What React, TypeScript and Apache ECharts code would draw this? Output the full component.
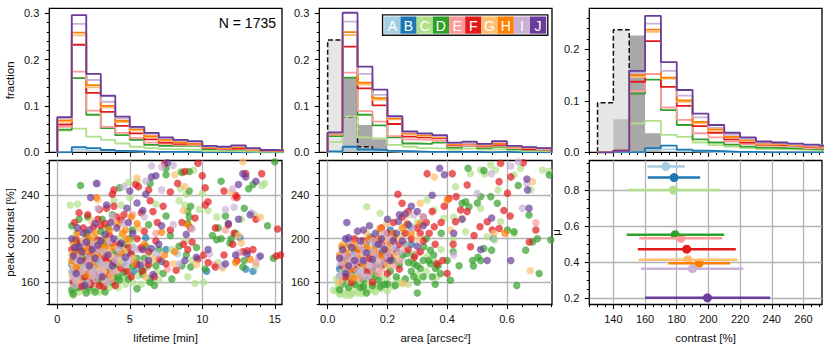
import React, { useEffect, useRef } from 'react';
import * as echarts from 'echarts';

const FONT = '"Liberation Sans", Arial, Helvetica, sans-serif';
const COLORS = ['#a6cee3', '#1f78b4', '#b2df8a', '#33a02c', '#fb9a99', '#e31a1c', '#fdbf6f', '#ff7f00', '#cab2d6', '#6a3d9a'];
const GROUPS = ['A', 'B', 'C', 'D', 'E', 'F', 'G', 'H', 'I', 'J'];
const N_TOTAL = 1735;

// ---------- tick values ----------
const lifeMajor = [0, 5, 10, 15];
const lifeMinor = [0, 1, 2, 3, 4, 5, 6, 7, 8, 9, 10, 11, 12, 13, 14, 15];
const areaMajor = [0, 0.2, 0.4, 0.6];
const areaMinor = [0, 0.05, 0.1, 0.15, 0.2, 0.25, 0.3, 0.35, 0.4, 0.45, 0.5, 0.55, 0.6, 0.65, 0.7, 0.75];
const contMajor = [140, 160, 180, 200, 220, 240, 260];
const contMinor = [125, 130, 135, 140, 145, 150, 155, 160, 165, 170, 175, 180, 185, 190, 195, 200, 205, 210, 215, 220, 225, 230, 235, 240, 245, 250, 255, 260, 265, 270];
const fracMajor = [0, 0.1, 0.2, 0.3];
const fracMinor = [0, 0.02, 0.04, 0.06, 0.08, 0.1, 0.12, 0.14, 0.16, 0.18, 0.2, 0.22, 0.24, 0.26, 0.28, 0.3];
const fracMajorR = [0, 0.1, 0.2];
const peakMajor = [160, 200, 240];
const peakMinor = [140, 150, 160, 170, 180, 190, 200, 210, 220, 230, 240, 250, 260, 270];
const muMajor = [0.2, 0.4, 0.6, 0.8];
const muMinor = [0.2, 0.25, 0.3, 0.35, 0.4, 0.45, 0.5, 0.55, 0.6, 0.65, 0.7, 0.75, 0.8, 0.85, 0.9, 0.95];

// ---------- histogram bin edges ----------
const lifeEdges = [0, 1, 2, 3, 4, 5, 6, 7, 8, 9, 10, 11, 12, 13, 14, 15, 16];
const areaEdges = [0, 0.05, 0.1, 0.15, 0.2, 0.25, 0.3, 0.35, 0.4, 0.45, 0.5, 0.55, 0.6, 0.65, 0.7, 0.75];
const contEdges = [130, 140, 150, 160, 170, 180, 190, 200, 210, 220, 230, 240, 250, 260, 270, 280];

// ---------- stacked histogram levels (lifetime) ----------
const lifeHistA = [0.000, 0.006, 0.004, 0.003, 0.002, 0.001, 0.001, 0.000, 0.000, 0.000, 0.000, 0.000, 0.000, 0.000, 0.000, 0.000];
const lifeHistB = [0.000, 0.011, 0.009, 0.005, 0.003, 0.002, 0.001, 0.001, 0.001, 0.000, 0.000, 0.000, 0.000, 0.000, 0.000, 0.000];
const lifeHistC = [0.047, 0.051, 0.034, 0.027, 0.019, 0.012, 0.009, 0.007, 0.006, 0.005, 0.003, 0.003, 0.002, 0.001, 0.001, 0.001];
const lifeHistD = [0.049, 0.160, 0.081, 0.052, 0.037, 0.027, 0.016, 0.014, 0.014, 0.014, 0.007, 0.006, 0.006, 0.004, 0.002, 0.002];
const lifeHistE = [0.055, 0.174, 0.090, 0.055, 0.042, 0.031, 0.021, 0.018, 0.016, 0.015, 0.009, 0.007, 0.008, 0.005, 0.003, 0.002];
const lifeHistF = [0.060, 0.232, 0.128, 0.087, 0.057, 0.041, 0.028, 0.021, 0.018, 0.017, 0.010, 0.008, 0.009, 0.006, 0.004, 0.003];
const lifeHistG = [0.066, 0.252, 0.140, 0.097, 0.065, 0.047, 0.033, 0.025, 0.021, 0.018, 0.011, 0.009, 0.011, 0.006, 0.004, 0.003];
const lifeHistH = [0.069, 0.258, 0.145, 0.100, 0.068, 0.050, 0.035, 0.027, 0.022, 0.019, 0.012, 0.010, 0.012, 0.007, 0.005, 0.003];
const lifeHistI = [0.073, 0.277, 0.156, 0.109, 0.073, 0.053, 0.040, 0.030, 0.025, 0.022, 0.013, 0.011, 0.014, 0.008, 0.005, 0.004];
const lifeHistJ = [0.076, 0.296, 0.169, 0.122, 0.077, 0.055, 0.042, 0.032, 0.027, 0.024, 0.014, 0.012, 0.015, 0.009, 0.005, 0.004];

// ---------- stacked histogram levels (area) ----------
const areaHistA = [0.001, 0.007, 0.003, 0.002, 0.001, 0.001, 0.000, 0.000, 0.000, 0.000, 0.000, 0.000, 0.000, 0.000, 0.000];
const areaHistB = [0.002, 0.012, 0.006, 0.005, 0.003, 0.002, 0.001, 0.001, 0.001, 0.001, 0.000, 0.001, 0.000, 0.000, 0.000];
const areaHistC = [0.022, 0.077, 0.032, 0.030, 0.016, 0.012, 0.009, 0.008, 0.006, 0.008, 0.006, 0.007, 0.005, 0.003, 0.002];
const areaHistD = [0.035, 0.161, 0.081, 0.058, 0.032, 0.019, 0.018, 0.021, 0.010, 0.014, 0.009, 0.012, 0.007, 0.005, 0.004];
const areaHistE = [0.038, 0.172, 0.089, 0.066, 0.035, 0.028, 0.027, 0.025, 0.014, 0.015, 0.012, 0.014, 0.009, 0.006, 0.005];
const areaHistF = [0.040, 0.228, 0.138, 0.101, 0.061, 0.034, 0.032, 0.030, 0.016, 0.018, 0.014, 0.016, 0.011, 0.007, 0.006];
const areaHistG = [0.040, 0.253, 0.146, 0.113, 0.071, 0.039, 0.035, 0.032, 0.017, 0.019, 0.015, 0.019, 0.011, 0.009, 0.007];
const areaHistH = [0.041, 0.259, 0.150, 0.117, 0.073, 0.041, 0.037, 0.034, 0.018, 0.020, 0.016, 0.020, 0.012, 0.009, 0.008];
const areaHistI = [0.042, 0.282, 0.169, 0.124, 0.076, 0.043, 0.039, 0.035, 0.020, 0.021, 0.017, 0.022, 0.013, 0.010, 0.008];
const areaHistJ = [0.043, 0.301, 0.185, 0.135, 0.078, 0.045, 0.041, 0.037, 0.021, 0.023, 0.018, 0.024, 0.014, 0.011, 0.009];

// ---------- stacked histogram levels (contrast) ----------
const contHistA = [0, 0.000, 0.000, 0.005, 0.006, 0.002, 0.001, 0.000, 0.000, 0.000, 0.000, 0.000, 0.000, 0.000, 0.000];
const contHistB = [0, 0.000, 0.001, 0.008, 0.013, 0.005, 0.003, 0.002, 0.001, 0.001, 0.000, 0.000, 0.000, 0.000, 0.000];
const contHistC = [0, 0.002, 0.056, 0.061, 0.034, 0.030, 0.019, 0.014, 0.011, 0.008, 0.006, 0.006, 0.005, 0.004, 0.003];
const contHistD = [0, 0.003, 0.114, 0.141, 0.082, 0.053, 0.025, 0.019, 0.015, 0.011, 0.009, 0.008, 0.007, 0.006, 0.005];
const contHistE = [0, 0.003, 0.119, 0.152, 0.087, 0.063, 0.037, 0.029, 0.021, 0.016, 0.013, 0.012, 0.011, 0.008, 0.007];
const contHistF = [0, 0.003, 0.137, 0.216, 0.127, 0.090, 0.051, 0.038, 0.025, 0.019, 0.015, 0.014, 0.013, 0.010, 0.009];
const contHistG = [0, 0.003, 0.146, 0.234, 0.143, 0.098, 0.056, 0.042, 0.029, 0.022, 0.016, 0.016, 0.014, 0.011, 0.010];
const contHistH = [0, 0.003, 0.150, 0.238, 0.145, 0.101, 0.059, 0.045, 0.030, 0.024, 0.017, 0.017, 0.015, 0.012, 0.011];
const contHistI = [0, 0.003, 0.154, 0.250, 0.158, 0.110, 0.068, 0.048, 0.034, 0.026, 0.019, 0.018, 0.016, 0.013, 0.012];
const contHistJ = [0, 0.003, 0.158, 0.265, 0.175, 0.121, 0.075, 0.053, 0.038, 0.029, 0.021, 0.019, 0.017, 0.015, 0.013];

// ---------- grey reference histograms ----------
const areaRefDark = [0, 0.162, 0.059, 0.028];
const areaRefLight = [0.242, 0.0755, 0.012];
const contRefDark = [0, 0.064, 0.227, 0.037];
const contRefLight = [0.096, 0.238];

// ---------- scatter: lifetime [min] vs peak contrast [%] ----------
const lifeScA = [[4.0, 177], [5.4, 190], [8.3, 186], [2.8, 172], [1.0, 161], [1.6, 165], [2.5, 160], [1.7, 177], [2.6, 177], [3.3, 178], [1.3, 175], [2.0, 171], [1.3, 184], [2.3, 183], [3.1, 181], [4.4, 168], [1.9, 181],
  [1.1, 170], [1.5, 180], [2.2, 166], [2.9, 168], [3.6, 174], [4.5, 182], [1.8, 158], [3.0, 188]];
const lifeScB = [[12.6, 201], [6.1, 201], [4.6, 178], [6.1, 174], [7.2, 179], [13.0, 172], [10.3, 170], [3.9, 180], [5.0, 186], [1.4, 160], [2.3, 162], [3.3, 168], [1.8, 166], [2.7, 175], [3.7, 180], [2.2, 181], [1.8, 188], [2.5, 186], [3.4, 193], [1.2, 187], [13.5, 170], [6.4, 163], [2.1, 199], [4.3, 194], [7.5, 190],
  [1.0, 176], [1.6, 172], [2.9, 181], [3.5, 172], [4.1, 186], [5.3, 170], [1.5, 193], [2.8, 165]];
const lifeScC = [[5.5, 253], [8.5, 262], [14.3, 251], [9.4, 263], [4.9, 252], [8.5, 246], [8.9, 241], [10.0, 242], [0.9, 231], [1.4, 232], [3.9, 235], [4.4, 231], [5.0, 238], [8.4, 235], [8.8, 231], [9.8, 227], [10.4, 226], [11.0, 220], [12.7, 218], [13.6, 222], [6.8, 232], [2.1, 205], [4.4, 180], [5.1, 195], [6.5, 185], [7.9, 190], [8.8, 198], [9.3, 180], [10.1, 160], [11.1, 178], [13.7, 175], [9.0, 165], [6.9, 170], [4.0, 173], [9.5, 159], [14.1, 249],
  [1.0, 150], [1.2, 152], [1.5, 151], [1.9, 153], [2.3, 152], [2.7, 154], [3.1, 153], [3.6, 155], [4.2, 155], [1.1, 148], [1.1, 158], [1.7, 160], [2.4, 157], [3.0, 159], [3.8, 158], [4.7, 158], [1.3, 163], [1.0, 167], [1.4, 172], [2.0, 175], [2.7, 170], [3.3, 173], [3.9, 168], [1.1, 185], [1.6, 190], [2.2, 195], [3.0, 186], [3.6, 193],
  [1.2, 156], [1.6, 154], [2.1, 157], [2.5, 155], [2.9, 151], [3.4, 157], [4.0, 161], [4.6, 164], [5.2, 160], [5.8, 158], [6.3, 161], [1.0, 178], [1.8, 182], [2.6, 188], [3.5, 182], [4.9, 172], [5.6, 166], [6.2, 174], [2.4, 200], [1.3, 205], [3.2, 203], [4.3, 201], [7.0, 162]];
const lifeScD = [[7.5, 265], [7.5, 259], [9.1, 262], [11.3, 253], [15.0, 271], [8.6, 261], [13.5, 250], [1.6, 249], [4.3, 247], [6.4, 251], [9.1, 244], [13.2, 246], [1.0, 212], [1.5, 218], [2.1, 220], [3.1, 218], [3.8, 222], [5.2, 208], [6.3, 213], [7.5, 221], [9.0, 225], [9.1, 220], [9.0, 214], [9.2, 230], [10.7, 203], [11.1, 210], [11.6, 221], [12.0, 200], [12.9, 228], [14.5, 212], [7.8, 203], [4.5, 188], [5.5, 182], [6.1, 193], [6.8, 175], [7.3, 168], [8.4, 193], [8.9, 185], [9.2, 174], [9.6, 192], [10.2, 172], [11.0, 199], [11.9, 196], [12.9, 180], [12.8, 174], [14.9, 182], [4.9, 163], [5.9, 167], [7.9, 163], [8.6, 175], [3.8, 160], [4.2, 165], [5.5, 154], [6.7, 157], [11.3, 200], [12.3, 205],
  [1.0, 153], [1.4, 155], [2.0, 150], [2.6, 151], [3.3, 151], [1.1, 149], [1.2, 160], [1.9, 162], [2.8, 160], [3.5, 162], [4.3, 162], [1.1, 170], [1.6, 176], [2.3, 172], [2.9, 176], [3.6, 172], [4.1, 176], [1.2, 188], [1.9, 184], [2.5, 192], [3.2, 196], [3.9, 188], [1.4, 196],
  [1.3, 158], [1.7, 165], [2.2, 155], [2.5, 165], [3.0, 164], [3.9, 165], [4.6, 169], [5.2, 175], [5.8, 171], [6.4, 160], [6.0, 182], [1.5, 183], [2.7, 182], [3.4, 188], [4.7, 195], [2.0, 205], [3.0, 207], [3.5, 210], [5.0, 200], [1.2, 180], [7.0, 190]];
const lifeScE = [[5.2, 222], [6.8, 205], [11.6, 208], [5.7, 190], [7.6, 172], [10.8, 176], [13.7, 178], [1.5, 158], [2.2, 164], [3.2, 163], [1.2, 174], [1.8, 168], [2.4, 178], [3.0, 172], [3.5, 177], [2.2, 170], [1.4, 182], [2.1, 187], [2.9, 183], [3.5, 189], [4.4, 185], [6.1, 178], [12.2, 238],
  [1.6, 162], [2.6, 158], [3.7, 162], [1.1, 165], [2.0, 178], [3.3, 168], [4.1, 170], [1.7, 190], [2.6, 194], [3.9, 183]];
const lifeScF = [[7.4, 269], [9.7, 269.5], [14.1, 260], [8.8, 262], [10.0, 258], [3.9, 245], [3.8, 241], [5.4, 250], [6.3, 245], [5.6, 248], [7.8, 243], [8.3, 251], [12.3, 240], [12.4, 238], [11.5, 244], [10.2, 247], [1.5, 224], [2.1, 222], [2.9, 227], [3.4, 228], [3.9, 230], [4.6, 222], [5.8, 224], [6.6, 225], [7.3, 230], [8.6, 215], [9.5, 219], [10.4, 234], [10.9, 210], [11.8, 213], [12.2, 205], [13.7, 218], [7.8, 208], [9.2, 210], [4.4, 217], [6.9, 215], [3.0, 212], [10.2, 231], [15.2, 209], [4.3, 195], [5.1, 186], [5.8, 192], [6.3, 188], [7.0, 181], [7.5, 177], [8.2, 171], [9.0, 190], [9.7, 181], [10.1, 185], [10.4, 178], [10.9, 174], [11.5, 185], [12.1, 195], [12.8, 188], [13.1, 189], [13.5, 190], [15.1, 184], [15.4, 185], [12.4, 180], [9.3, 197], [8.7, 195], [6.7, 165], [4.8, 170], [2.3, 158], [3.2, 156], [5.5, 176], [1.7, 156], [2.9, 157], [4.0, 157], [1.3, 178], [2.0, 180], [2.6, 167], [3.4, 180], [3.9, 178], [1.0, 190], [1.7, 196], [2.3, 185], [2.8, 199], [3.3, 183], [3.8, 196], [1.3, 199], [6.4, 235], [13.0, 260],
  [1.1, 160], [1.9, 165], [2.5, 162], [3.6, 167], [4.4, 173], [5.1, 165], [5.9, 170], [6.3, 176], [1.5, 188], [2.1, 193], [2.7, 188], [3.6, 203], [4.9, 192], [5.5, 200], [6.0, 207], [1.8, 210], [2.5, 211], [3.3, 214], [4.1, 220], [6.8, 198], [1.2, 215], [2.8, 218]];
const lifeScG = [[5.5, 256], [12.8, 271], [8.1, 259], [2.8, 236], [12.0, 243], [8.8, 248], [3.8, 217], [5.6, 210], [14.0, 220], [12.5, 203], [8.7, 226], [2.4, 216], [4.9, 198], [6.6, 181], [8.0, 177], [11.4, 173], [12.7, 196], [9.6, 176], [1.3, 162], [2.4, 166], [3.7, 166], [1.1, 176], [1.7, 172], [2.8, 174], [3.2, 169], [1.2, 182], [2.0, 190], [2.6, 184], [3.1, 192], [3.7, 184], [6.1, 165],
  [1.5, 178], [2.3, 179], [3.4, 176], [4.3, 178], [1.0, 186], [1.8, 198], [2.8, 196], [3.5, 190], [4.6, 188], [5.2, 182]];
const lifeScH = [[2.7, 238], [4.7, 208], [5.1, 220], [4.2, 213], [7.2, 206], [9.0, 213], [5.3, 178], [6.0, 195], [7.4, 185], [8.1, 188], [13.3, 181], [12.3, 178], [2.0, 167], [3.0, 166], [1.0, 180], [1.5, 170], [2.5, 174], [3.7, 170], [1.1, 196], [1.6, 186], [2.4, 198], [3.0, 191], [3.4, 199], [1.9, 193], [4.5, 205], [4.8, 200], [1.4, 205], [2.6, 205], [5.5, 214],
  [1.2, 186], [1.7, 190], [2.2, 189], [2.8, 186], [3.3, 193], [3.9, 192], [2.1, 202], [3.6, 208], [1.3, 173], [2.3, 180], [4.4, 187]];
const lifeScI = [[6.5, 267], [8.0, 267.5], [7.2, 266], [2.8, 251], [4.6, 248], [6.1, 253], [12.1, 246], [3.8, 221], [4.6, 214], [6.0, 220], [8.0, 213], [9.3, 209], [12.2, 229], [13.4, 224], [11.6, 227], [5.3, 192], [6.9, 186], [8.4, 177], [11.4, 175], [12.5, 187], [13.9, 183], [10.5, 186], [1.2, 157], [2.1, 159], [2.6, 163], [3.4, 160], [1.4, 166], [1.9, 174], [2.4, 169], [2.9, 179], [3.5, 175], [3.1, 176], [2.1, 177], [1.5, 184], [2.2, 182], [2.7, 189], [3.2, 188], [4.2, 190], [2.8, 228], [7.2, 245],
  [1.0, 170], [1.3, 180], [1.7, 170], [2.5, 172], [3.0, 168], [3.8, 170], [4.0, 180], [4.7, 176], [1.8, 195], [2.5, 195], [3.6, 198], [5.0, 180], [1.2, 163], [2.8, 167]];
const lifeScJ = [[7.6, 270], [6.5, 257], [13.0, 257], [12.8, 260], [2.7, 251], [6.8, 258], [2.3, 238], [6.1, 241], [13.7, 253], [12.5, 250], [5.0, 244], [3.4, 231], [4.8, 228], [5.5, 233], [5.9, 226], [2.6, 214], [1.8, 205], [8.9, 204], [12.5, 218], [13.3, 222], [11.8, 214], [7.2, 212], [4.7, 183], [5.7, 176], [6.5, 191], [7.0, 195], [8.8, 180], [9.6, 183], [11.6, 177], [12.3, 185], [13.1, 186], [14.0, 184], [10.4, 190], [6.3, 180], [1.9, 157], [3.1, 165], [1.3, 168], [2.2, 175], [3.8, 175], [1.6, 180], [1.0, 200], [1.5, 193], [2.0, 197], [2.8, 194], [3.5, 185], [3.9, 200], [1.2, 192], [4.1, 210], [6.6, 167],
  [1.1, 184], [1.7, 188], [2.4, 190], [3.0, 198], [3.3, 204], [2.2, 208], [1.4, 210], [3.7, 215], [4.4, 196], [5.2, 205], [2.6, 182], [5.9, 190], [4.9, 215]];

// ---------- scatter: area [arcsec^2] vs peak contrast [%] ----------
const areaScA = [[0.176, 180], [0.21, 189.5], [0.131, 174], [0.086, 168], [0.05, 170], [0.07, 165], [0.09, 170], [0.11, 175], [0.13, 183], [0.15, 178], [0.17, 186], [0.19, 192], [0.22, 185], [0.08, 186], [0.12, 170], [0.16, 170], [0.1, 160], [0.06, 162],
  [0.04, 175], [0.09, 178], [0.14, 188], [0.18, 176], [0.11, 165], [0.2, 195], [0.25, 182]];
const areaScB = [[0.555, 200.3], [0.277, 211], [0.21, 208], [0.142, 201.8], [0.097, 186.5], [0.069, 197], [0.041, 165], [0.05, 158], [0.07, 180], [0.09, 188], [0.12, 190], [0.14, 165], [0.16, 195], [0.18, 188], [0.2, 178], [0.1, 176], [0.08, 170], [0.06, 182],
  [0.04, 172], [0.11, 182], [0.15, 172], [0.19, 183], [0.13, 195], [0.23, 190], [0.28, 195]];
const areaScC = [[0.478, 260], [0.546, 268], [0.562, 263.4], [0.525, 259.7], [0.719, 263.4], [0.646, 265], [0.624, 258.8], [0.512, 263.4], [0.428, 248], [0.534, 201.8], [0.559, 198.8], [0.358, 178.8], [0.333, 183.4], [0.333, 235.7], [0.355, 226.5], [0.389, 218.8], [0.422, 220], [0.462, 206.5], [0.579, 215.7], [0.624, 205], [0.131, 229.5], [0.176, 223.4], [0.019, 152.6], [0.041, 149.5], [0.075, 148], [0.114, 149.5], [0.154, 152.6], [0.243, 158.8], [0.299, 166.5], [0.366, 165], [0.512, 228], [0.74, 262], [0.68, 245], [0.57, 245],
  [0.03, 152], [0.04, 149], [0.05, 150], [0.06, 148], [0.07, 151], [0.08, 149], [0.09, 152], [0.1, 150], [0.12, 152], [0.14, 153], [0.16, 151], [0.18, 154], [0.2, 152], [0.22, 156], [0.04, 156], [0.06, 158], [0.08, 162], [0.1, 157], [0.13, 160], [0.15, 165], [0.2, 162], [0.25, 160], [0.03, 163], [0.05, 170], [0.1, 172],
  [0.035, 158], [0.045, 165], [0.07, 160], [0.09, 166], [0.11, 161], [0.12, 157], [0.15, 156], [0.17, 158], [0.18, 165], [0.23, 162], [0.27, 158], [0.3, 163], [0.33, 170], [0.07, 175], [0.14, 178], [0.2, 175], [0.28, 180], [0.25, 205], [0.3, 215], [0.38, 190], [0.42, 200]];
const areaScD = [[0.47, 265], [0.523, 262.8], [0.638, 249], [0.742, 258.8], [0.501, 233], [0.512, 238.8], [0.674, 221.8], [0.602, 208], [0.624, 206.5], [0.485, 180], [0.488, 174.8], [0.512, 180], [0.503, 183], [0.523, 191], [0.549, 189.5], [0.708, 168], [0.663, 189.5], [0.633, 157], [0.702, 200], [0.686, 197], [0.411, 161.8], [0.361, 172.6], [0.378, 168], [0.322, 192.6], [0.344, 189.5], [0.355, 185], [0.45, 232.6], [0.473, 229.5], [0.462, 234], [0.546, 238.8], [0.568, 232.6], [0.747, 198.8], [0.266, 186.5], [0.288, 177], [0.31, 172.6], [0.344, 177], [0.226, 157], [0.176, 155.7], [0.12, 155.7], [0.288, 165], [0.338, 180],
  [0.04, 153], [0.07, 155], [0.09, 158], [0.11, 155], [0.13, 150], [0.15, 157], [0.17, 162], [0.19, 158], [0.23, 165], [0.26, 163], [0.28, 170], [0.3, 160], [0.32, 165], [0.06, 165], [0.1, 167], [0.14, 170], [0.18, 175], [0.22, 180], [0.25, 185], [0.27, 178], [0.3, 175],
  [0.05, 160], [0.08, 168], [0.12, 162], [0.16, 166], [0.2, 158], [0.21, 170], [0.24, 176], [0.29, 185], [0.32, 180], [0.35, 165], [0.37, 175], [0.4, 180], [0.26, 195], [0.33, 200], [0.38, 205], [0.42, 188], [0.44, 175], [0.3, 150], [0.36, 158]];
const areaScE = [[0.697, 214.8], [0.176, 195.7], [0.131, 180], [0.21, 192.6], [0.299, 186.5], [0.05, 163], [0.07, 168], [0.09, 174], [0.11, 164], [0.13, 178], [0.15, 172], [0.17, 168], [0.08, 180], [0.12, 186], [0.19, 182], [0.22, 175], [0.16, 190],
  [0.06, 175], [0.1, 185], [0.14, 168], [0.18, 172], [0.2, 198], [0.24, 180], [0.26, 190]];
const areaScF = [[0.333, 260], [0.417, 260], [0.579, 269.5], [0.655, 270], [0.574, 252.6], [0.613, 257], [0.602, 242], [0.611, 221], [0.59, 226], [0.551, 208], [0.574, 209.5], [0.697, 208], [0.675, 197], [0.51, 211], [0.534, 215.7], [0.49, 203], [0.478, 192.6], [0.366, 177], [0.4, 168], [0.385, 180], [0.467, 249.5], [0.467, 225], [0.43, 238.8], [0.235, 241], [0.249, 232.6], [0.406, 237], [0.445, 226.5], [0.32, 220], [0.357, 211], [0.31, 205], [0.428, 215.7],
  [0.05, 175], [0.07, 183], [0.1, 190], [0.12, 198], [0.14, 182], [0.16, 176], [0.18, 195], [0.2, 188], [0.22, 200], [0.24, 195], [0.26, 205], [0.28, 200], [0.3, 210], [0.32, 198], [0.34, 205], [0.36, 195], [0.08, 160], [0.11, 178], [0.15, 160], [0.2, 168], [0.24, 172], [0.18, 210], [0.22, 215], [0.25, 220],
  [0.06, 165], [0.09, 172], [0.13, 170], [0.17, 185], [0.19, 177], [0.21, 183], [0.23, 188], [0.27, 190], [0.29, 183], [0.31, 188], [0.33, 215], [0.35, 225], [0.38, 215], [0.27, 225], [0.2, 205], [0.15, 200], [0.09, 200], [0.39, 230], [0.42, 195]];
const areaScG = [[0.357, 257], [0.31, 232.6], [0.557, 205], [0.678, 170.5], [0.686, 252.6], [0.266, 221.8], [0.198, 214], [0.176, 205], [0.411, 208], [0.45, 218.8], [0.12, 195.7], [0.254, 158.8], [0.04, 160], [0.06, 178], [0.09, 165], [0.11, 185], [0.14, 192], [0.17, 180], [0.21, 190], [0.24, 200], [0.07, 190], [0.13, 205], [0.19, 200],
  [0.05, 195], [0.08, 180], [0.12, 185], [0.16, 188], [0.2, 176], [0.23, 185], [0.26, 212], [0.3, 200]];
const areaScH = [[0.593, 205], [0.4, 235.7], [0.266, 214], [0.221, 201.8], [0.176, 209.5], [0.31, 214], [0.097, 189.5], [0.064, 172.6], [0.047, 192.6], [0.12, 180], [0.154, 189.5], [0.086, 163.4], [0.05, 180], [0.08, 172], [0.1, 182], [0.12, 176], [0.15, 187], [0.18, 184], [0.21, 196], [0.09, 195], [0.14, 200], [0.06, 187],
  [0.04, 185], [0.07, 195], [0.11, 190], [0.13, 192], [0.17, 199], [0.22, 205], [0.25, 210], [0.28, 205], [0.19, 190]];
const areaScI = [[0.613, 267], [0.638, 271], [0.548, 260], [0.667, 251], [0.501, 241.8], [0.652, 228], [0.288, 221.8], [0.422, 185], [0.04, 166], [0.06, 172], [0.08, 176], [0.1, 170], [0.12, 180], [0.14, 175], [0.16, 183], [0.18, 178], [0.2, 185], [0.22, 192], [0.24, 188], [0.07, 198], [0.11, 193], [0.15, 198], [0.19, 205], [0.05, 185], [0.13, 165], [0.09, 185],
  [0.045, 178], [0.07, 182], [0.1, 180], [0.12, 188], [0.16, 176], [0.18, 193], [0.21, 200], [0.26, 195], [0.28, 210], [0.32, 220], [0.11, 170], [0.15, 188]];
const areaScJ = [[0.375, 265], [0.391, 259], [0.667, 255], [0.674, 228], [0.613, 180], [0.549, 219], [0.512, 190], [0.669, 245], [0.45, 218], [0.064, 215], [0.07, 201], [0.26, 223], [0.237, 216], [0.534, 180], [0.422, 205],
  [0.05, 190], [0.07, 175], [0.09, 180], [0.11, 198], [0.13, 187], [0.15, 181], [0.17, 195], [0.19, 190], [0.21, 180], [0.23, 205], [0.27, 213], [0.3, 193], [0.1, 207], [0.14, 212], [0.06, 168], [0.2, 218], [0.25, 198],
  [0.04, 182], [0.06, 200], [0.08, 192], [0.12, 208], [0.16, 205], [0.18, 200], [0.22, 198], [0.24, 222], [0.28, 230], [0.32, 212], [0.35, 240], [0.12, 180], [0.3, 225]];

// ---------- mean contrast with spread per group ----------
const errMu = [0.93, 0.869, 0.80, 0.551, 0.531, 0.471, 0.412, 0.392, 0.362, 0.20];
const errCenter = [173.1, 178.3, 177.9, 179.0, 182.6, 186.3, 187.0, 194.1, 189.9, 199.4];
const errLow = [161.5, 161.7, 148.8, 148.4, 156.4, 155.4, 156.0, 174.7, 157.5, 160.0];
const errHigh = [185.1, 194.8, 207.0, 209.9, 208.7, 217.3, 218.3, 213.7, 222.1, 239.0];

// ---------- layout ----------
const GL = [49.3, 319.3, 589.3];
const GT = [8.3, 160.5];
const GW = 232.7;
const GH = 144;

function stepData(edges: number[], vals: number[]) {
  const pts: number[][] = [[edges[0], 0]];
  for (let i = 0; i < vals.length; i++) {
    pts.push([edges[i], vals[i]]);
    pts.push([edges[i + 1], vals[i]]);
  }
  pts.push([edges[vals.length], 0]);
  return pts;
}

function axisPair(kind: 'x' | 'y', grid: number, min: number, max: number, major: number[], minor: number[], labels: boolean, dec: number, split: boolean) {
  const pos = kind === 'x' ? 'bottom' : 'left';
  const main = {
    type: 'value', gridIndex: grid, min, max, position: pos,
    axisLine: { show: false, onZero: false },
    axisTick: { show: true, inside: false, length: 4.5, lineStyle: { color: '#000', width: 1.1 }, customValues: major },
    axisLabel: {
      show: labels, customValues: major, margin: kind === 'x' ? 9 : 10, fontSize: 11, fontFamily: FONT, color: '#111',
      formatter: (v: number) => v.toFixed(dec), showMinLabel: true, showMaxLabel: true, hideOverlap: false,
    },
    splitLine: { show: split, lineStyle: { color: '#b3b3b3', width: 1.3 } },
    minorTick: { show: false }, minorSplitLine: { show: false },
  };
  const mnr = {
    type: 'value', gridIndex: grid, min, max, position: pos,
    axisLine: { show: false, onZero: false },
    axisTick: { show: true, inside: false, length: 2.6, lineStyle: { color: '#000', width: 1 }, customValues: minor },
    axisLabel: { show: false },
    splitLine: { show: false },
  };
  return [main, mnr];
}

function buildOption() {
  const grids = [];
  for (let r = 0; r < 2; r++) for (let c = 0; c < 3; c++) {
    grids.push({ left: GL[c], top: GT[r], width: GW, height: GH, show: true, borderColor: '#000', borderWidth: 1.3, backgroundColor: 'transparent', containLabel: false, outerBoundsMode: 'none' });
  }
  const xAxis = [
    ...axisPair('x', 0, -0.55, 15.5, lifeMajor, lifeMinor, false, 0, false),
    ...axisPair('x', 1, -0.028, 0.751, areaMajor, areaMinor, false, 1, false),
    ...axisPair('x', 2, 124.8, 271.7, contMajor, contMinor, false, 0, false),
    ...axisPair('x', 3, -0.55, 15.5, lifeMajor, lifeMinor, true, 0, true),
    ...axisPair('x', 4, -0.028, 0.751, areaMajor, areaMinor, true, 1, true),
    ...axisPair('x', 5, 124.8, 271.7, contMajor, contMinor, true, 0, true),
  ];
  const yAxis = [
    ...axisPair('y', 0, 0, 0.3106, fracMajor, fracMinor, true, 1, false),
    ...axisPair('y', 1, 0, 0.3106, fracMajor, fracMinor, true, 1, false),
    ...axisPair('y', 2, 0, 0.2796, fracMajorR, fracMinor, true, 1, false),
    ...axisPair('y', 3, 139.4, 272.1, peakMajor, peakMinor, true, 0, true),
    ...axisPair('y', 4, 139.4, 272.1, peakMajor, peakMinor, true, 0, true),
    ...axisPair('y', 5, 0.163, 0.964, muMajor, muMinor, true, 1, true),
  ];

  const series: any[] = [];
  const ax = (g: number) => ({ xAxisIndex: 2 * g, yAxisIndex: 2 * g });

  const fill = (g: number, edges: number[], vals: number[], color: string, opacity: number) => ({
    type: 'line', ...ax(g), data: stepData(edges, vals), symbol: 'none', showSymbol: false, silent: true,
    lineStyle: { opacity: 0, width: 0 }, areaStyle: { color, opacity },
  });
  const dashed = (g: number, edges: number[], vals: number[]) => ({
    type: 'line', ...ax(g), data: stepData(edges, vals), symbol: 'none', showSymbol: false, silent: true,
    lineStyle: { color: '#111', width: 1.5, type: [5, 2.5] },
  });
  series.push(fill(1, areaEdges, areaRefDark, '#a8a8a8', 1));
  series.push(fill(1, areaEdges, areaRefLight, '#d2d2d2', 0.55));
  series.push(dashed(1, areaEdges, areaRefLight));
  series.push(fill(2, contEdges, contRefDark, '#a8a8a8', 1));
  series.push(fill(2, contEdges, contRefLight, '#d2d2d2', 0.55));
  series.push(dashed(2, contEdges, contRefLight));

  const lifeHists = [lifeHistA, lifeHistB, lifeHistC, lifeHistD, lifeHistE, lifeHistF, lifeHistG, lifeHistH, lifeHistI, lifeHistJ];
  const areaHists = [areaHistA, areaHistB, areaHistC, areaHistD, areaHistE, areaHistF, areaHistG, areaHistH, areaHistI, areaHistJ];
  const contHists = [contHistA, contHistB, contHistC, contHistD, contHistE, contHistF, contHistG, contHistH, contHistI, contHistJ];
  const histSets: [number, number[], number[][]][] = [[0, lifeEdges, lifeHists], [1, areaEdges, areaHists], [2, contEdges, contHists]];
  histSets.forEach(([g, edges, hs]) => {
    hs.forEach((vals, i) => {
      series.push({
        type: 'line', ...ax(g), data: stepData(edges, vals), symbol: 'none', showSymbol: false, silent: true,
        lineStyle: { color: COLORS[i], width: 1.8 },
      });
    });
  });

  const lifeSc = [lifeScA, lifeScB, lifeScC, lifeScD, lifeScE, lifeScF, lifeScG, lifeScH, lifeScI, lifeScJ];
  const areaSc = [areaScA, areaScB, areaScC, areaScD, areaScE, areaScF, areaScG, areaScH, areaScI, areaScJ];
  lifeSc.forEach((pts, i) => series.push({
    type: 'scatter', ...ax(3), data: pts, symbolSize: 7.5, silent: true, clip: true,
    itemStyle: { color: COLORS[i], opacity: 0.7 },
  }));
  areaSc.forEach((pts, i) => series.push({
    type: 'scatter', ...ax(4), data: pts, symbolSize: 7.5, silent: true, clip: true,
    itemStyle: { color: COLORS[i], opacity: 0.7 },
  }));

  errMu.forEach((mu, i) => {
    series.push({
      type: 'line', ...ax(5), data: [[errLow[i], mu], [errHigh[i], mu]], symbol: 'none', showSymbol: false, silent: true,
      lineStyle: { color: COLORS[i], width: 2.5 },
    });
    series.push({
      type: 'scatter', ...ax(5), data: [[errCenter[i], mu]], symbolSize: 9, silent: true,
      itemStyle: { color: COLORS[i], opacity: 1 },
    });
  });

  // legend boxes
  const LX = 384.2, LY = 16.5, BW = 16.2, BH = 17.2;
  const legendEls: any[] = [
    { type: 'rect', shape: { x: LX - 1.6, y: LY - 1.6, width: BW * 10 + 3.2, height: BH + 3.2 }, style: { fill: '#fff', stroke: '#111', lineWidth: 1.4 } },
  ];
  GROUPS.forEach((g, i) => {
    legendEls.push({ type: 'rect', shape: { x: LX + i * BW, y: LY, width: BW, height: BH }, style: { fill: COLORS[i] } });
    legendEls.push({
      type: 'text', x: LX + i * BW + BW / 2, y: LY + BH / 2 + 0.5,
      style: { text: g, fill: '#fff', fontSize: 14, fontFamily: FONT, align: 'center', verticalAlign: 'middle', textAlign: 'center', textVerticalAlign: 'middle' },
    });
  });

  const label = (text: string, x: number, y: number, rot = 0, size = 11.5) => ({
    type: 'text', x, y, rotation: rot,
    style: { text, fill: '#111', fontSize: size, fontFamily: FONT, align: 'center', verticalAlign: 'middle', textAlign: 'center', textVerticalAlign: 'middle' },
  });

  const graphic: any[] = [
    ...legendEls,
    {
      type: 'text', x: 276, y: 22.5,
      style: { text: 'N = ' + N_TOTAL, fill: '#000', fontSize: 14, fontFamily: FONT, align: 'right', verticalAlign: 'middle', textAlign: 'right', textVerticalAlign: 'middle' },
    },
    label('fraction', 10, 80.3, Math.PI / 2),
    label('peak contrast [%]', 10, 232.4, Math.PI / 2),
    label('μ', 555.5, 232.4, Math.PI / 2),
    label('lifetime [min]', 165.6, 337.7),
    label('area [arcsec²]', 435.6, 337.7),
    label('contrast [%]', 705.6, 337.7),
  ];

  return {
    animation: false,
    backgroundColor: '#fff',
    textStyle: { fontFamily: FONT },
    grid: grids,
    xAxis,
    yAxis,
    series,
    graphic,
  };
}

export default function App() {
  const ref = useRef<HTMLDivElement>(null);
  useEffect(() => {
    if (!ref.current) return;
    const chart = echarts.init(ref.current, null, { renderer: 'svg' });
    chart.setOption(buildOption() as any);
    return () => chart.dispose();
  }, []);
  return <div ref={ref} style={{ position: 'fixed', left: 0, top: 0, width: 830, height: 354, background: '#fff' }} />;
}
